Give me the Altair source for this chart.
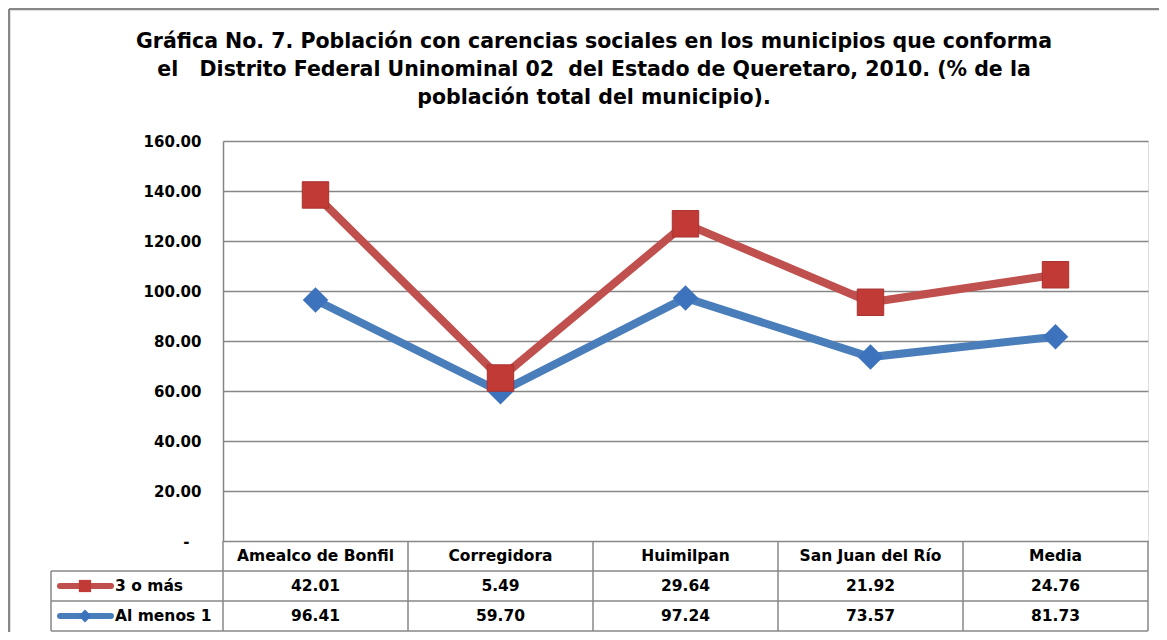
import altair as alt
import pandas as pd

categories = ["Amealco de Bonfil", "Corregidora", "Huimilpan", "San Juan del Río", "Media"]
tres_o_mas = [42.01, 5.49, 29.64, 21.92, 24.76]
al_menos_1 = [96.41, 59.70, 97.24, 73.57, 81.73]
series_names = ["3 o más", "Al menos 1"]
y_ticks = [0, 20, 40, 60, 80, 100, 120, 140, 160]
NB = "\u00a0"
title_lines = [
    "Gráfica No. 7. Población con carencias sociales en los municipios que conforma",
    f"el{NB}{NB}{NB}Distrito Federal Uninominal 02{NB}{NB}del Estado de Queretaro, 2010. (% de la",
    "población total del municipio).",
]

RED_LINE = "#c0504d"
RED_MARK = "#c23a36"
BLUE_LINE = "#4a7ebb"
BLUE_MARK = "#3d72bd"
GRID = "#878787"
FONT = "DejaVu Sans"
FS = 15.5
FS_AX = 15

df = pd.DataFrame({"cat": categories, "tres": tres_o_mas, "al": al_menos_1})
base = alt.Chart(df).transform_calculate(total="datum.al + datum.tres")
one = alt.Chart(pd.DataFrame({"k": [0]}))

xenc = alt.X("cat:N", sort=categories,
             scale=alt.Scale(type="band", paddingInner=0, paddingOuter=0),
             axis=alt.Axis(labels=False, ticks=False, domain=False, title=None, grid=False))
yscale = alt.Scale(domain=[0, 160], nice=False, zero=True)
yaxis = alt.Axis(values=y_ticks, title=None, grid=True, gridColor=GRID, gridWidth=1.5,
                 domain=True, domainColor=GRID, domainWidth=1.5, ticks=False,
                 labelFont=FONT, labelFontSize=FS_AX, labelFontWeight="bold", labelColor="#000",
                 labelPadding={"condition": {"test": "datum.value == 0", "value": 34}, "value": 22},
                 labelExpr="datum.value == 0 ? '-' : format(datum.value, '.2f')")

grid = base.mark_point(opacity=0).encode(x=xenc, y=alt.Y("al:Q", scale=yscale, axis=yaxis))

blue_line = base.mark_line(color=BLUE_LINE, strokeWidth=8).encode(
    x=xenc, y=alt.Y("al:Q", scale=yscale))
blue_pts = base.mark_point(shape="diamond", filled=True, size=650, color=BLUE_MARK, opacity=1).encode(
    x=xenc, y=alt.Y("al:Q", scale=yscale))
red_line = base.mark_line(color=RED_LINE, strokeWidth=8).encode(
    x=xenc, y=alt.Y("total:Q", scale=yscale))
red_pts = base.mark_point(shape="square", filled=True, size=700, color=RED_MARK, opacity=1,
                          stroke="#a83230", strokeWidth=1).encode(
    x=xenc, y=alt.Y("total:Q", scale=yscale))

# data table
ROW_H = 30
T0 = 400
txt = dict(font=FONT, fontSize=FS, fontWeight="bold", color="#000", baseline="middle", align="center")
header = base.mark_text(**txt).encode(x=xenc, y=alt.value(T0 + ROW_H / 2), text="cat:N")
row1 = base.mark_text(**txt).encode(x=xenc, y=alt.value(T0 + ROW_H * 1.5),
                                    text=alt.Text("tres:Q", format=".2f"))
row2 = base.mark_text(**txt).encode(x=xenc, y=alt.value(T0 + ROW_H * 2.5),
                                    text=alt.Text("al:Q", format=".2f"))

rule_style = dict(color=GRID, strokeWidth=1.5)
vlines = base.mark_rule(**rule_style).encode(
    x=alt.X("cat:N", sort=categories, bandPosition=0),
    y=alt.value(T0), y2=alt.value(T0 + 3 * ROW_H))
vlast = base.transform_filter(alt.datum.cat == categories[-1]).mark_rule(**rule_style).encode(
    x=alt.X("cat:N", sort=categories, bandPosition=1),
    y=alt.value(T0), y2=alt.value(T0 + 3 * ROW_H))

hlines = [one.mark_rule(**rule_style).encode(x=alt.value(-172), x2=alt.value(925),
                                             y=alt.value(T0 + r * ROW_H)) for r in (1, 2, 3)]
vleg = one.mark_rule(**rule_style).encode(
    x=alt.value(-172), y=alt.value(T0 + ROW_H), y2=alt.value(T0 + 3 * ROW_H))

legend_layers = []
for i, (name, lc, mc, shp) in enumerate([(series_names[0], RED_LINE, RED_MARK, "square"),
                                         (series_names[1], BLUE_LINE, BLUE_MARK, "diamond")]):
    yy = T0 + ROW_H * (1.5 + i)
    legend_layers.append(one.mark_rule(strokeWidth=6, strokeCap="round", color=lc).encode(
        x=alt.value(-163), x2=alt.value(-112), y=alt.value(yy)))
    legend_layers.append(one.mark_point(filled=True, size=150 if shp == "square" else 170,
                                        opacity=1, color=mc, shape=shp).encode(
        x=alt.value(-138), y=alt.value(yy)))
    legend_layers.append(one.mark_text(font=FONT, fontSize=FS, fontWeight="bold", color="#000",
                                       align="left", baseline="middle", text=name).encode(
        x=alt.value(-108), y=alt.value(yy)))

# outer frame (top and left edges)
frame_top = one.mark_rule(color=GRID, strokeWidth=2.5).encode(
    x=alt.value(-214), x2=alt.value(1000), y=alt.value(-132))
frame_left = one.mark_rule(color=GRID, strokeWidth=2.5).encode(
    x=alt.value(-214), y=alt.value(-132), y2=alt.value(600))

title_layers = []
for i, line in enumerate(title_lines):
    title_layers.append(one.mark_text(font=FONT, fontSize=20.5, fontWeight="bold", color="#000",
                                      align="center", baseline="alphabetic", text=line).encode(
        x=alt.value(371), y=alt.value(-93 + 28 * i)))

chart = alt.layer(
    frame_top, frame_left, grid, vlines, vlast, *hlines, vleg,
    header, row1, row2,
    blue_line, blue_pts, red_line, red_pts,
    *legend_layers, *title_layers,
).properties(
    width=925, height=400,
    autosize=alt.AutoSizeParams(type="none"),
    padding={"left": 215, "top": 133, "right": 11, "bottom": 91},
).configure_view(stroke=None).configure(background="white")

chart.save("out.html", embed_options={"renderer": "svg", "actions": False})
